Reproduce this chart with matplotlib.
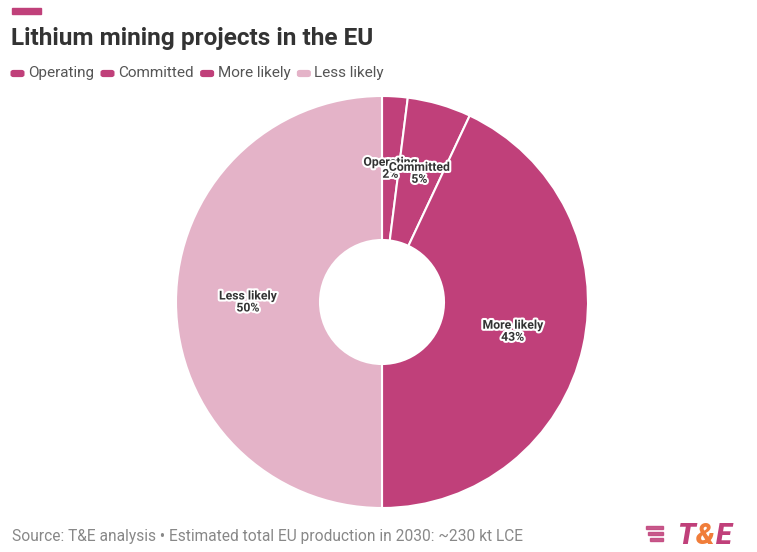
import numpy as np
import matplotlib.pyplot as plt
from matplotlib.patches import Rectangle, FancyBboxPatch
import matplotlib.patheffects as pe

plt.rcParams['font.family'] = ['Roboto', 'DejaVu Sans']

categories = ['Operating', 'Committed', 'More likely', 'Less likely']
shares = [2, 5, 43, 50]
colors = ['#c0407a', '#c0407a', '#c0407a', '#e4b3c8']

fig = plt.figure(figsize=(7.57, 5.52), dpi=100)
W, H = 757, 552

# donut in pixel coords: centre (382, 302), radius 206, hole 62
cx, cy, r = 382, 302, 206
ax = fig.add_axes([(cx - r) / W, 1 - (cy + r) / H, 2 * r / W, 2 * r / H])
wedges, _ = ax.pie(shares, colors=colors, startangle=90, counterclock=False,
                   radius=1.0,
                   wedgeprops=dict(width=1 - 62 / 206, edgecolor='white', linewidth=1.5))
ax.set_xlim(-1, 1)
ax.set_ylim(-1, 1)
ax.set_aspect('equal')

start = 90.0
rmid = (1 + 62 / 206) / 2
for name, v in zip(categories, shares):
    mid = np.deg2rad(start - v * 3.6 / 2)
    start -= v * 3.6
    ax.text(rmid * np.cos(mid), rmid * np.sin(mid), f'{name}\n{v}%',
            ha='center', va='center', fontsize=8.8, fontweight='bold',
            color='#333333', linespacing=0.9,
            path_effects=[pe.withStroke(linewidth=3, foreground='white')])

# header bar and title
fig.patches.append(Rectangle((12 / W, 1 - 14 / H), 29 / W, 6 / H,
                             transform=fig.transFigure, color='#c0407a'))
fig.text(11 / W, 1 - 38 / H, 'Lithium mining projects in the EU', fontsize=17.6,
         fontweight='bold', color='#333333', va='center', ha='left')

# legend row
x = 12
for name, c in zip(categories, colors):
    fig.patches.append(FancyBboxPatch((x / W, 1 - 76 / H), 11 / W, 5 / H,
                                      boxstyle='round,pad=0.002,rounding_size=0.004',
                                      transform=fig.transFigure, color=c, lw=0))
    t = fig.text((x + 16) / W, 1 - 73 / H, name, fontsize=11, color='#555555',
                 va='center', ha='left')
    fig.canvas.draw()
    bb = t.get_window_extent()
    x = bb.x1 + 8

# footer
fig.text(12 / W, 1 - 537 / H,
         'Source: T&E analysis \u2022 Estimated total EU production in 2030: ~230 kt LCE',
         fontsize=11.2, color='#888888', va='center', ha='left')

# logo
for i, w in enumerate([17, 15, 13]):
    fig.patches.append(Rectangle(((663 - w) / W, 1 - (529 + i * 6) / H), w / W, 3 / H,
                                 transform=fig.transFigure, color='#c0407a', alpha=0.85))
lx = 677
for ch, c in [('T', '#c0407a'), ('&', '#f07d3a'), ('E', '#c0407a')]:
    t = fig.text(lx / W, 1 - 536 / H, ch, fontsize=21, fontweight='black', style='italic',
                 color=c, va='center', ha='left')
    fig.canvas.draw()
    lx = t.get_window_extent().x1 + 1

fig.savefig('out.png', dpi=100)
